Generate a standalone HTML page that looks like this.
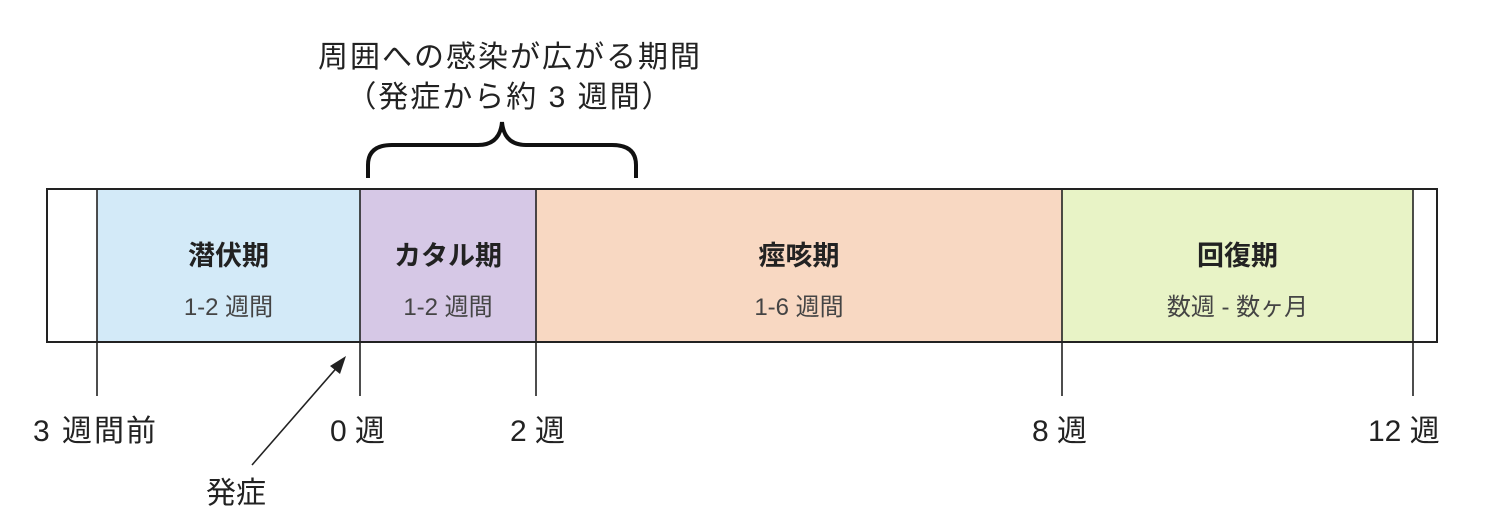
<!DOCTYPE html>
<html><head><meta charset="utf-8"><style>
body{margin:0;background:#fff;width:1487px;height:528px;overflow:hidden;position:relative;font-family:"Liberation Sans","Noto Sans CJK JP",sans-serif;color:#222}
.t{position:absolute;white-space:nowrap;text-align:center}
</style></head><body>
<svg width="1487" height="528" style="position:absolute;left:0;top:0">
<rect x="47" y="189" width="1390" height="153" fill="#fff"/>
<rect x="97" y="189" width="263" height="153" fill="#d3eaf8"/>
<rect x="360" y="189" width="176" height="153" fill="#d6c8e6"/>
<rect x="536" y="189" width="526" height="153" fill="#f8d8c2"/>
<rect x="1062" y="189" width="351" height="153" fill="#e8f3c6"/>
<rect x="47" y="189" width="1390" height="153" fill="none" stroke="#222" stroke-width="2"/>
<g stroke="#222" stroke-width="1.6">
<line x1="97" y1="189" x2="97" y2="396"/>
<line x1="360" y1="189" x2="360" y2="396"/>
<line x1="536" y1="189" x2="536" y2="396"/>
<line x1="1062" y1="189" x2="1062" y2="396"/>
<line x1="1413" y1="189" x2="1413" y2="396"/>
<line x1="252" y1="465" x2="340" y2="364"/>
</g>
<polygon points="346,356 330,366 340,374" fill="#222"/>
<path d="M368,178 V165 Q368,145 392,145 H478 Q500,145 502,122 Q504,145 526,145 H612 Q636,145 636,165 V178" fill="none" stroke="#111" stroke-width="4"/>
</svg>
<div class="t" style="left:270px;top:38px;width:480px;font-size:30px;line-height:40px;letter-spacing:2px">周囲への感染が広がる期間<br>（発症から約 3 週間）</div>
<div class="t" style="left:97px;top:234px;width:263px;font-size:27px;font-weight:bold">潜伏期</div>
<div class="t" style="left:97px;top:287px;width:263px;font-size:24px;color:#444">1-2 週間</div>
<div class="t" style="left:360px;top:234px;width:176px;font-size:27px;font-weight:bold">カタル期</div>
<div class="t" style="left:360px;top:287px;width:176px;font-size:24px;color:#444">1-2 週間</div>
<div class="t" style="left:536px;top:234px;width:526px;font-size:27px;font-weight:bold">痙咳期</div>
<div class="t" style="left:536px;top:287px;width:526px;font-size:24px;color:#444">1-6 週間</div>
<div class="t" style="left:1062px;top:234px;width:351px;font-size:27px;font-weight:bold">回復期</div>
<div class="t" style="left:1062px;top:287px;width:351px;font-size:24px;color:#444">数週 - 数ヶ月</div>
<div class="t" style="left:33px;top:406px;font-size:30px;letter-spacing:2px">3 週間前</div>
<div class="t" style="left:330px;top:406px;font-size:30px">0 週</div>
<div class="t" style="left:510px;top:406px;font-size:30px">2 週</div>
<div class="t" style="left:1032px;top:406px;font-size:30px">8 週</div>
<div class="t" style="left:1368px;top:406px;font-size:30px">12 週</div>
<div class="t" style="left:206px;top:468px;font-size:30px">発症</div>
</body></html>
